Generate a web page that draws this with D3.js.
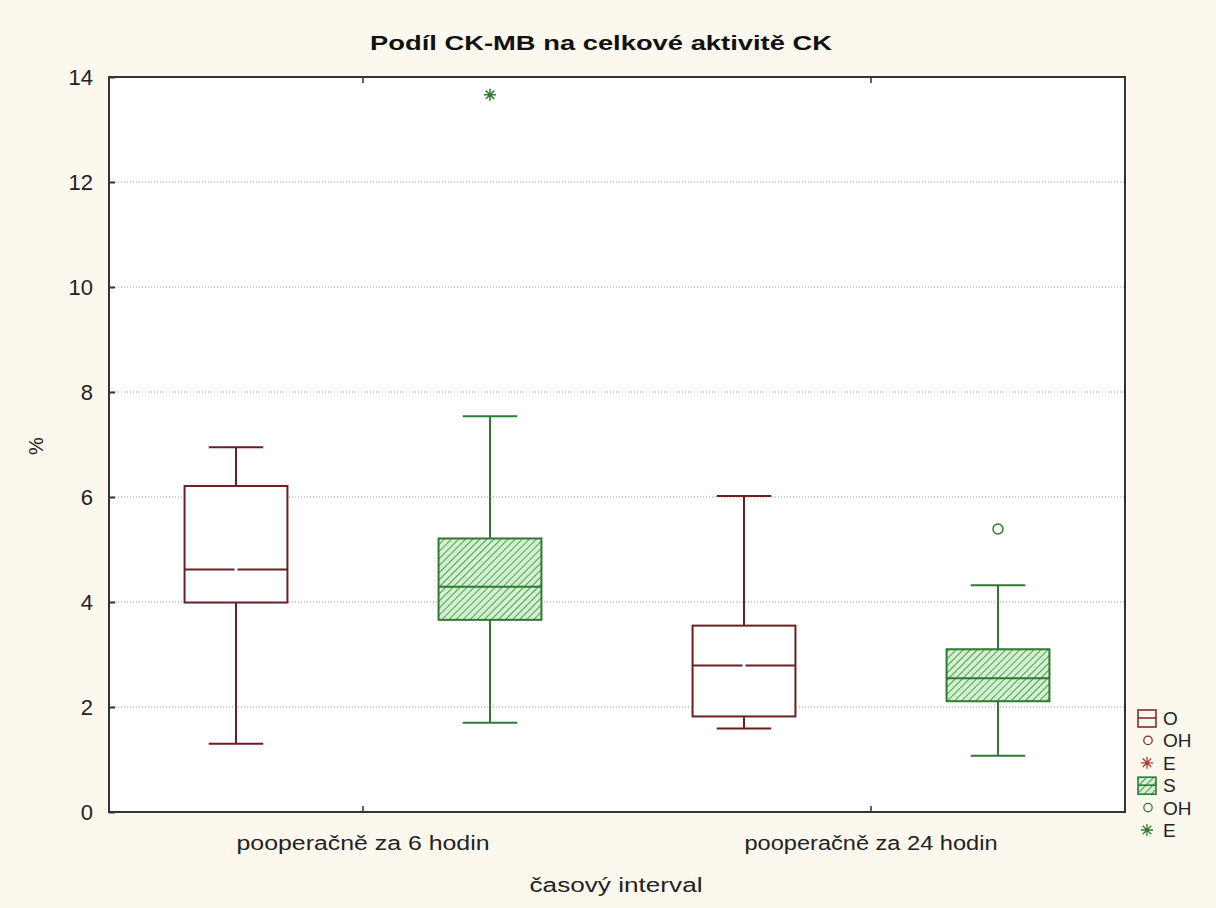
<!DOCTYPE html>
<html>
<head>
<meta charset="utf-8">
<script src="https://cdn.jsdelivr.net/npm/d3@7"></script>
<style>
  html, body { margin: 0; padding: 0; background: #fcf8ee; }
  svg { display: block; }
</style>
</head>
<body>
<svg id="chart" width="1216" height="908"></svg>
<script>
// Box-plot summary per time interval (CK-MB share of total CK activity, %)
const categories = ["pooperačně za 6 hodin", "pooperačně za 24 hodin"];
const seriesNames = ["O", "S"];

const whiskerLowO  = [1.30, 1.59];
const q1O          = [3.99, 1.82];
const medianO      = [4.62, 2.79];
const q3O          = [6.21, 3.55];
const whiskerHighO = [6.95, 6.02];

const whiskerLowS  = [1.70, 1.07];
const q1S          = [3.66, 2.11];
const medianS      = [4.29, 2.55];
const q3S          = [5.21, 3.10];
const whiskerHighS = [7.54, 4.32];

// points beyond the whiskers: outliers (circle) and extremes (star)
const outliersS = [{ cat: 1, value: 5.39 }];
const extremesS = [{ cat: 0, value: 13.66 }];

const yTicks = [0, 2, 4, 6, 8, 10, 12, 14];
const legendItems = [
  { label: "O",  kind: "box",    series: "O" },
  { label: "OH", kind: "circle", series: "O" },
  { label: "E",  kind: "star",   series: "O" },
  { label: "S",  kind: "box",    series: "S" },
  { label: "OH", kind: "circle", series: "S" },
  { label: "E",  kind: "star",   series: "S" }
];

const stroke = { O: "#6a1f22", S: "#2f7a32" };
const legendStroke = { O: "#8a2a2a", S: "#2f7a32" };

const boxes = [];
categories.forEach((c, i) => {
  boxes.push({ cat: c, series: "O", lo: whiskerLowO[i], q1: q1O[i], med: medianO[i], q3: q3O[i], hi: whiskerHighO[i] });
  boxes.push({ cat: c, series: "S", lo: whiskerLowS[i], q1: q1S[i], med: medianS[i], q3: q3S[i], hi: whiskerHighS[i] });
});

const svg = d3.select("#chart");
const plot = { left: 109, top: 77, right: 1125, bottom: 812 };

const x = d3.scaleBand().domain(categories).range([plot.left, plot.right]).padding(0);
const xs = d3.scaleBand().domain(seriesNames).range([0, x.bandwidth()]).padding(0);
const y = d3.scaleLinear().domain([0, 14]).range([plot.bottom, plot.top]);

// hatch pattern for the S boxes
const defs = svg.append("defs");
const pat = defs.append("pattern")
  .attr("id", "hatch").attr("patternUnits", "userSpaceOnUse")
  .attr("width", 5).attr("height", 5)
  .attr("patternTransform", "rotate(45)");
pat.append("rect").attr("width", 5).attr("height", 5).attr("fill", "#d2f2cf");
pat.append("line").attr("x1", 0).attr("y1", 0).attr("x2", 0).attr("y2", 5)
  .attr("stroke", "#2f7a32").attr("stroke-width", 1.5);

// plot background
svg.append("rect")
  .attr("x", plot.left).attr("y", plot.top)
  .attr("width", plot.right - plot.left).attr("height", plot.bottom - plot.top)
  .attr("fill", "#ffffff");

// dotted gridlines
svg.append("g").selectAll("line")
  .data(yTicks.filter(t => t > 0 && t < 14))
  .join("line")
  .attr("x1", plot.left).attr("x2", plot.right)
  .attr("y1", d => y(d)).attr("y2", d => y(d))
  .attr("stroke", "#9a9a9a").attr("stroke-width", 1)
  .attr("stroke-dasharray", "1,2");

// y axis (ticks pointing inward, labels outside)
const yAxis = d3.axisLeft(y).tickValues(yTicks).tickSizeInner(-6).tickSizeOuter(0).tickPadding(16);
const gy = svg.append("g").attr("transform", `translate(${plot.left},0)`).call(yAxis);
gy.select(".domain").remove();
gy.selectAll(".tick line").attr("stroke", "#333").attr("stroke-width", 2);
gy.selectAll(".tick text")
  .attr("font-family", "Liberation Sans, Arial, sans-serif")
  .attr("font-size", 22).attr("fill", "#222");

// x axis: category ticks on top and bottom edges
const xAxis = d3.axisBottom(x).tickSizeInner(-6).tickSizeOuter(0).tickPadding(24);
const gx = svg.append("g").attr("transform", `translate(0,${plot.bottom})`).call(xAxis);
gx.select(".domain").remove();
gx.selectAll(".tick line").attr("stroke", "#333").attr("stroke-width", 1.5);
gx.selectAll(".tick text")
  .attr("font-family", "Liberation Sans, Arial, sans-serif")
  .attr("font-size", 20).attr("fill", "#222")
  .attr("textLength", 253).attr("lengthAdjust", "spacingAndGlyphs");
const gxTop = svg.append("g").attr("transform", `translate(0,${plot.top})`)
  .call(d3.axisTop(x).tickSizeInner(-6).tickSizeOuter(0).tickFormat(""));
gxTop.select(".domain").remove();
gxTop.selectAll(".tick line").attr("stroke", "#333").attr("stroke-width", 1.5);

// boxes
const gBoxes = svg.append("g");
const boxW = xs.bandwidth() * 0.405;
const capW = boxW * 0.53;
boxes.forEach(b => {
  const cx = x(b.cat) + xs(b.series) + xs.bandwidth() / 2;
  const col = stroke[b.series];
  const g = gBoxes.append("g");
  // whiskers
  g.append("line").attr("x1", cx).attr("x2", cx).attr("y1", y(b.hi)).attr("y2", y(b.q3))
    .attr("stroke", col).attr("stroke-width", 2);
  g.append("line").attr("x1", cx).attr("x2", cx).attr("y1", y(b.q1)).attr("y2", y(b.lo))
    .attr("stroke", col).attr("stroke-width", 2);
  g.append("line").attr("x1", cx - capW / 2).attr("x2", cx + capW / 2).attr("y1", y(b.hi)).attr("y2", y(b.hi))
    .attr("stroke", col).attr("stroke-width", 2);
  g.append("line").attr("x1", cx - capW / 2).attr("x2", cx + capW / 2).attr("y1", y(b.lo)).attr("y2", y(b.lo))
    .attr("stroke", col).attr("stroke-width", 2);
  // box
  g.append("rect")
    .attr("x", cx - boxW / 2).attr("y", y(b.q3))
    .attr("width", boxW).attr("height", y(b.q1) - y(b.q3))
    .attr("fill", b.series === "S" ? "url(#hatch)" : "#ffffff")
    .attr("stroke", col).attr("stroke-width", 2);
  // median
  if (b.series === "O") {
    g.append("line").attr("x1", cx - boxW / 2).attr("x2", cx - 1.5).attr("y1", y(b.med)).attr("y2", y(b.med))
      .attr("stroke", col).attr("stroke-width", 2);
    g.append("line").attr("x1", cx + 1.5).attr("x2", cx + boxW / 2).attr("y1", y(b.med)).attr("y2", y(b.med))
      .attr("stroke", col).attr("stroke-width", 2);
  } else {
    g.append("line").attr("x1", cx - boxW / 2).attr("x2", cx + boxW / 2).attr("y1", y(b.med)).attr("y2", y(b.med))
      .attr("stroke", col).attr("stroke-width", 2);
  }
});

function starPath(r) {
  const d = r * Math.SQRT1_2;
  return `M${-r},0L${r},0M0,${-r}L0,${r}M${-d},${-d}L${d},${d}M${-d},${d}L${d},${-d}`;
}

// outliers and extremes
svg.append("g").selectAll("circle")
  .data(outliersS).join("circle")
  .attr("cx", d => x(categories[d.cat]) + xs("S") + xs.bandwidth() / 2)
  .attr("cy", d => y(d.value))
  .attr("r", 5).attr("fill", "none").attr("stroke", stroke.S).attr("stroke-width", 1.5);
svg.append("g").selectAll("path")
  .data(extremesS).join("path")
  .attr("transform", d => `translate(${x(categories[d.cat]) + xs("S") + xs.bandwidth() / 2},${y(d.value)})`)
  .attr("d", starPath(6)).attr("stroke", stroke.S).attr("stroke-width", 1.5).attr("fill", "none");

// frame
svg.append("rect")
  .attr("x", plot.left).attr("y", plot.top)
  .attr("width", plot.right - plot.left).attr("height", plot.bottom - plot.top)
  .attr("fill", "none").attr("stroke", "#333").attr("stroke-width", 2);

// title and axis titles
svg.append("text")
  .attr("x", 601).attr("y", 50).attr("text-anchor", "middle")
  .attr("font-family", "Liberation Sans, Arial, sans-serif").attr("font-weight", "bold")
  .attr("font-size", 20).attr("fill", "#111")
  .attr("textLength", 462).attr("lengthAdjust", "spacingAndGlyphs")
  .text("Podíl CK-MB na celkové aktivitě CK");
svg.append("text")
  .attr("x", 616).attr("y", 892).attr("text-anchor", "middle")
  .attr("font-family", "Liberation Sans, Arial, sans-serif")
  .attr("font-size", 20).attr("fill", "#222")
  .attr("textLength", 173).attr("lengthAdjust", "spacingAndGlyphs")
  .text("časový interval");
svg.append("text")
  .attr("transform", "translate(43,446) rotate(-90)").attr("text-anchor", "middle")
  .attr("font-family", "Liberation Sans, Arial, sans-serif")
  .attr("font-size", 20).attr("fill", "#222")
  .text("%");

// legend
const lg = svg.append("g");
legendItems.forEach((it, i) => {
  const cy = 718 + i * 22.4;
  const col = legendStroke[it.series];
  const sx = 1147;
  if (it.kind === "box") {
    lg.append("rect").attr("x", sx - 9).attr("y", cy - 8).attr("width", 18).attr("height", 17)
      .attr("fill", it.series === "S" ? "url(#hatch)" : "none").attr("stroke", col).attr("stroke-width", 1.6);
    lg.append("line").attr("x1", sx - 9).attr("x2", sx + 9).attr("y1", cy).attr("y2", cy)
      .attr("stroke", col).attr("stroke-width", 1.6);
  } else if (it.kind === "circle") {
    lg.append("circle").attr("cx", sx + 1).attr("cy", cy).attr("r", 4.2)
      .attr("fill", "none").attr("stroke", col).attr("stroke-width", 1.3);
  } else {
    lg.append("path").attr("transform", `translate(${sx},${cy})`).attr("d", starPath(6))
      .attr("stroke", it.series === "O" ? "#b03a3a" : col).attr("stroke-width", 1.3).attr("fill", "none");
  }
  lg.append("text").attr("x", 1163).attr("y", cy + 7)
    .attr("font-family", "Liberation Sans, Arial, sans-serif")
    .attr("font-size", 19).attr("fill", "#222")
    .text(it.label);
});
</script>
</body>
</html>
